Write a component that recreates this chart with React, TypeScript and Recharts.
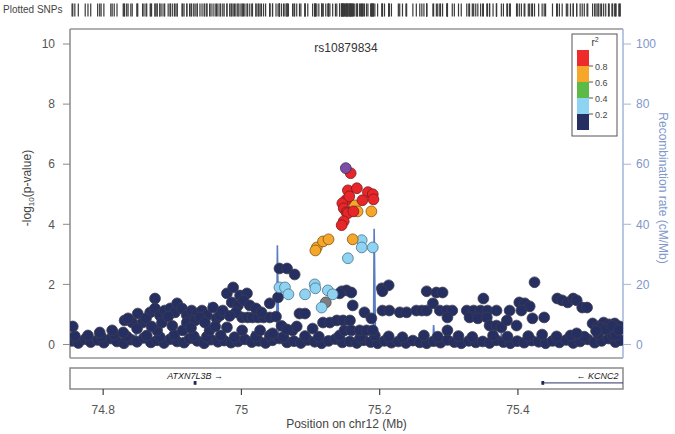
import React from "react";
import {
  ComposedChart,
  Scatter,
  XAxis,
  YAxis,
  ReferenceLine,
  ReferenceArea,
} from "recharts";

type Pt = [number, number];

const X_DOMAIN: [number, number] = [74.752, 75.552];
const pTicks = [0, 2, 4, 6, 8, 10];
const rateTicks = [0, 20, 40, 60, 80, 100];
const posTicks = [74.8, 75, 75.2, 75.4];
const ldColors = ["#ee2b2b", "#f5a62b", "#5cba47", "#8ed4f2", "#262f62"];
const ldBreaks = ["0.8", "0.6", "0.4", "0.2"];
const leadName = "rs10879834";

// [position (Mb), -log10 p]
const leadSnp: Pt[] = [[75.151, 5.87]];

const redSnps: Pt[] = [
  [75.158, 5.7], [75.154, 5.13], [75.167, 5.2], [75.183, 5.07], [75.19, 5.0],
  [75.191, 4.83], [75.175, 4.8], [75.151, 4.8], [75.146, 4.7], [75.148, 4.53],
  [75.152, 4.4], [75.154, 4.37], [75.162, 4.43], [75.148, 4.1], [75.145, 3.97],
  [75.156, 4.93],
];

const orangeSnps: Pt[] = [
  [75.164, 4.63], [75.168, 4.43], [75.188, 4.43], [75.109, 3.23], [75.107, 3.13],
  [75.118, 3.43], [75.126, 3.5], [75.161, 3.5],
];

const lightBlueSnps: Pt[] = [
  [75.174, 3.47], [75.174, 3.23], [75.19, 3.23], [75.154, 2.87], [75.055, 1.9],
  [75.063, 1.9], [75.068, 1.67], [75.092, 1.67], [75.106, 2.0], [75.107, 1.87],
  [75.125, 1.8], [75.132, 1.67], [75.116, 1.23],
];

const noLdSnps: Pt[] = [[75.122, 1.4]];

const navySnps: Pt[] = [
  // baseline, lower row
  [74.755, 0.12], [74.764, 0.05], [74.774, 0.18], [74.782, 0.08], [74.792, 0.15],
  [74.801, 0.06], [74.811, 0.2], [74.82, 0.1], [74.83, 0.04], [74.84, 0.16],
  [74.849, 0.09], [74.859, 0.22], [74.869, 0.07], [74.878, 0.14], [74.888, 0.05],
  [74.897, 0.18], [74.907, 0.1], [74.917, 0.06], [74.925, 0.2], [74.936, 0.12],
  [74.946, 0.04], [74.956, 0.16], [74.966, 0.09], [74.975, 0.13], [74.985, 0.06],
  [74.995, 0.1], [75.005, 0.17], [75.015, 0.08], [75.025, 0.12], [75.035, 0.05],
  [75.045, 0.14], [75.055, 0.2], [75.066, 0.07], [75.076, 0.11], [75.086, 0.05],
  [75.096, 0.15], [75.106, 0.09], [75.116, 0.04], [75.126, 0.12], [75.136, 0.18],
  [75.146, 0.07], [75.157, 0.1], [75.167, 0.05], [75.177, 0.14], [75.187, 0.08],
  [75.197, 0.04], [75.207, 0.12], [75.217, 0.06], [75.227, 0.1], [75.238, 0.05],
  [75.248, 0.13], [75.258, 0.07], [75.268, 0.04], [75.278, 0.11], [75.288, 0.06],
  [75.298, 0.15], [75.308, 0.08], [75.318, 0.04], [75.329, 0.12], [75.339, 0.07],
  [75.349, 0.1], [75.359, 0.05], [75.369, 0.14], [75.379, 0.08], [75.389, 0.04],
  [75.399, 0.11], [75.409, 0.06], [75.42, 0.13], [75.43, 0.09], [75.44, 0.04],
  [75.45, 0.12], [75.46, 0.07], [75.47, 0.15], [75.48, 0.05], [75.49, 0.1],
  [75.501, 0.17], [75.511, 0.06], [75.521, 0.12], [75.531, 0.2], [75.541, 0.08],
  [75.548, 0.14],
  // baseline, upper row
  [74.759, 0.28], [74.778, 0.3], [74.797, 0.26], [74.816, 0.33], [74.834, 0.27],
  [74.863, 0.3], [74.882, 0.25], [74.903, 0.32], [74.931, 0.28], [74.95, 0.26],
  [74.97, 0.3], [74.99, 0.24], [75.021, 0.27], [75.041, 0.3], [75.061, 0.25],
  [75.092, 0.28], [75.112, 0.26], [75.142, 0.3], [75.172, 0.25], [75.193, 0.3],
  [75.213, 0.27], [75.233, 0.24], [75.264, 0.3], [75.284, 0.26], [75.314, 0.28],
  [75.334, 0.25], [75.364, 0.3], [75.385, 0.26], [75.415, 0.28], [75.435, 0.33],
  [75.456, 0.27], [75.476, 0.3], [75.496, 0.26], [75.516, 0.35], [75.537, 0.29],
  // left and middle
  [74.756, 0.6], [74.829, 0.4], [74.831, 0.8], [74.842, 0.73], [74.85, 1.03],
  [74.857, 0.73], [74.849, 0.53], [74.868, 1.07], [74.875, 1.53], [74.875, 1.2],
  [74.882, 0.97], [74.878, 0.47], [74.889, 1.13], [74.897, 1.2], [74.904, 1.07],
  [74.907, 1.37], [74.914, 1.2], [74.915, 0.47], [74.921, 0.97], [74.921, 0.73],
  [74.928, 1.13], [74.936, 1.03], [74.943, 1.13], [74.95, 0.97], [74.954, 0.47],
  [74.959, 1.23], [74.964, 0.87], [74.969, 0.97], [74.979, 1.7], [74.988, 1.9],
  [74.998, 1.63], [75.008, 1.7], [74.986, 1.4], [74.995, 1.3], [75.003, 1.47],
  [75.012, 1.3], [74.979, 0.57], [75.001, 0.9], [75.009, 0.9], [75.016, 0.9],
  [75.001, 0.47], [75.024, 0.9], [75.032, 0.9], [75.041, 0.9], [75.05, 0.93],
  [75.041, 1.37], [75.027, 0.47], [75.045, 0.37], [75.074, 0.47], [75.084, 1.03],
  [75.092, 1.03], [75.08, 0.6], [75.103, 0.53], [75.118, 0.73], [75.128, 0.73],
  [75.138, 0.8], [75.147, 0.8], [75.157, 0.8], [75.149, 0.47], [75.159, 0.47],
  [75.171, 0.47], [75.181, 0.47], [75.19, 0.47],
  [74.836, 0.87], [74.862, 0.87], [74.885, 0.73], [74.894, 0.93], [74.933, 0.8],
  [74.94, 0.9], [74.947, 0.73], [74.973, 1.13], [74.992, 1.07], [75.021, 1.2],
  [75.029, 1.07], [74.813, 0.47], [74.795, 0.4], [74.87, 0.6], [74.9, 0.62],
  [74.927, 0.55], [74.962, 0.6], [74.983, 0.95], [75.058, 0.62], [75.066, 0.5],
  // around the peak
  [75.055, 2.53], [75.066, 2.53], [75.077, 2.33], [75.053, 1.57], [75.145, 1.77],
  [75.152, 1.8], [75.159, 1.73], [75.142, 1.7], [75.161, 1.3], [75.203, 1.87],
  [75.213, 1.97], [75.204, 1.77], [75.178, 1.07], [75.188, 0.87],
  // right side
  [75.204, 1.13], [75.214, 1.13], [75.229, 1.07], [75.239, 1.07], [75.253, 1.13],
  [75.261, 1.13], [75.268, 1.13], [75.268, 1.77], [75.282, 1.73], [75.291, 1.73],
  [75.277, 1.37], [75.287, 1.13], [75.297, 1.13], [75.305, 1.13], [75.298, 0.9],
  [75.298, 0.47], [75.326, 1.13], [75.336, 1.13], [75.346, 1.13], [75.356, 1.13],
  [75.369, 1.13], [75.33, 0.9], [75.342, 0.87], [75.355, 0.9], [75.35, 1.53],
  [75.359, 0.63], [75.369, 0.63], [75.376, 0.57], [75.388, 1.13], [75.384, 0.8],
  [75.398, 0.63], [75.402, 1.4], [75.41, 1.37], [75.417, 1.27], [75.405, 1.13],
  [75.424, 2.07], [75.421, 0.87], [75.438, 0.9], [75.457, 1.53], [75.464, 1.47],
  [75.472, 1.4], [75.48, 1.53], [75.485, 1.47], [75.493, 1.23], [75.5, 1.23],
  [75.508, 0.7], [75.516, 0.6], [75.524, 0.73], [75.532, 0.67], [75.54, 0.7],
  [75.547, 0.6], [75.485, 0.37], [75.542, 0.3], [75.519, 0.55], [75.527, 0.5],
  [75.536, 0.62], [75.546, 0.48], [75.513, 0.45],
];

// [position (Mb), recombination rate (cM/Mb)]
const recombination: Pt[] = [
  [74.752, 0.5], [74.83, 0.6], [74.846, 1.2], [74.847, 5.0], [74.849, 0.8],
  [74.9, 0.7], [74.952, 1.0], [74.953, 14.0], [74.955, 1.5], [74.974, 1.2],
  [74.975, 6.0], [74.977, 1.0], [75.015, 0.8], [75.016, 4.5], [75.018, 0.6],
  [75.051, 0.8], [75.052, 33.0], [75.054, 0.9], [75.1, 0.8], [75.138, 1.0],
  [75.141, 2.8], [75.145, 1.2], [75.152, 2.2], [75.158, 0.9], [75.165, 2.6],
  [75.17, 1.0], [75.175, 2.0], [75.18, 0.8], [75.191, 1.0], [75.192, 38.5],
  [75.194, 0.5], [75.277, 0.5], [75.278, 6.5], [75.28, 0.5], [75.375, 0.5],
  [75.376, 4.0], [75.378, 0.5], [75.552, 0.5],
];

const geneNames = ["ATXN7L3B \u2192", "\u2190 KCNC2"];
const geneStart = [74.931, 75.434];
const geneEnd = [74.934, 75.6];
const geneLabelPos = [74.933, 75.515];

const FONT = "'Liberation Sans', Arial, sans-serif";

const toRows = (pts: Pt[]) => pts.map(([pos, logp]) => ({ pos, logp }));
const recombRows = recombination.map(([pos, rate]) => ({ pos, rate }));
const allSnps = [...navySnps, ...lightBlueSnps, ...orangeSnps, ...redSnps, ...noLdSnps, ...leadSnp];
const rugRows = allSnps.map(([pos]) => ({ pos, band: 0.5 }));
const geneLabelRows = geneNames.map((name, i) => ({ pos: geneLabelPos[i], track: 0.6, name }));

const dot = (fill: string, stroke: string) => (p: any) =>
  p.cx == null ? <g /> : <circle cx={p.cx} cy={p.cy} r={5.4} fill={fill} stroke={stroke} strokeWidth={0.8} />;

const rugMark = (p: any) =>
  p.cx == null ? <g /> : <rect x={p.cx - 0.6} y={p.cy - 6.5} width={1.2} height={13} fill="#3a3a3a" />;

const geneLabel = (p: any) =>
  p.cx == null ? (
    <g />
  ) : (
    <text x={p.cx} y={p.cy + 3} textAnchor="middle" fontSize={9} fontStyle="italic" fill="#222" fontFamily={FONT}>
      {p.payload.name}
    </text>
  );

// x-axis tick: short mark under the gene box plus the label
const PosTick = (p: any) => (
  <g>
    <line x1={p.x} x2={p.x} y1={p.y} y2={p.y + 6} stroke="#444" strokeWidth={1.2} />
    <text x={p.x} y={p.y + 25} textAnchor="middle" fontSize={12} fill="#555" fontFamily={FONT}>
      {String(p.payload.value)}
    </text>
  </g>
);

export default function App() {
  return (
    <div style={{ position: "absolute", left: 0, top: 0, width: 675, height: 434, background: "#fff", fontFamily: FONT }}>
      {/* plotted SNPs rug */}
      <div style={{ position: "absolute", left: 0, top: 0 }}>
        <ComposedChart width={675} height={20} margin={{ top: 3, right: 52, bottom: 3, left: 70 }}>
          <XAxis type="number" dataKey="pos" domain={X_DOMAIN} hide allowDataOverflow />
          <YAxis type="number" dataKey="band" domain={[0, 1]} hide />
          <Scatter data={rugRows} shape={rugMark} isAnimationActive={false} />
        </ComposedChart>
      </div>

      {/* association plot */}
      <div style={{ position: "absolute", left: 0, top: 0 }}>
        <ComposedChart width={675} height={370} margin={{ top: 29, right: 0, bottom: 12, left: 30 }}>
          <XAxis type="number" dataKey="pos" domain={X_DOMAIN} hide allowDataOverflow />
          <YAxis
            yAxisId="left"
            type="number"
            dataKey="logp"
            domain={[-0.45, 10.5]}
            ticks={pTicks}
            allowDataOverflow
            width={40}
            tickSize={7}
            tickMargin={8}
            axisLine={{ stroke: "#8a8a8a", strokeWidth: 1.5 }}
            tickLine={{ stroke: "#8a8a8a" }}
            tick={{ fill: "#555", fontSize: 12, fontFamily: FONT }}
          />
          <YAxis
            yAxisId="right"
            orientation="right"
            type="number"
            dataKey="rate"
            domain={[-4.5, 105]}
            ticks={rateTicks}
            allowDataOverflow
            width={52}
            tickSize={8}
            tickMargin={5}
            axisLine={{ stroke: "#a3b5da", strokeWidth: 1.5 }}
            tickLine={{ stroke: "#a3b5da" }}
            tick={{ fill: "#7f97c9", fontSize: 12, fontFamily: FONT }}
          />
          <ReferenceLine yAxisId="left" y={10.5} stroke="#b0b0b0" strokeWidth={2} />
          <ReferenceLine yAxisId="left" y={-0.45} stroke="#b0b0b0" strokeWidth={2} />
          <Scatter
            yAxisId="right"
            data={recombRows}
            line={{ stroke: "#5a7dc2", strokeWidth: 1.6 }}
            shape={() => <g />}
            isAnimationActive={false}
          />
          <Scatter yAxisId="left" data={toRows(navySnps)} shape={dot("#262f62", "#3c3c4c")} isAnimationActive={false} />
          <Scatter yAxisId="left" data={toRows(noLdSnps)} shape={dot("#7d7d7d", "#444")} isAnimationActive={false} />
          <Scatter yAxisId="left" data={toRows(lightBlueSnps)} shape={dot("#8ed4f2", "#4e6d88")} isAnimationActive={false} />
          <Scatter yAxisId="left" data={toRows(orangeSnps)} shape={dot("#f5a62b", "#7d5512")} isAnimationActive={false} />
          <Scatter yAxisId="left" data={toRows(redSnps)} shape={dot("#e8262a", "#7a1c1c")} isAnimationActive={false} />
          <Scatter yAxisId="left" data={toRows(leadSnp)} shape={dot("#7a4fa3", "#3e2a5a")} isAnimationActive={false} />
        </ComposedChart>
      </div>

      {/* gene track */}
      <div style={{ position: "absolute", left: 0, top: 360 }}>
        <ComposedChart width={675} height={74} margin={{ top: 8, right: 52, bottom: 0, left: 70 }}>
          <XAxis
            type="number"
            dataKey="pos"
            domain={X_DOMAIN}
            ticks={posTicks}
            allowDataOverflow
            height={45}
            tickSize={0}
            tickMargin={0}
            axisLine={false}
            tickLine={false}
            tick={<PosTick />}
            label={{ value: "Position on chr12 (Mb)", position: "insideBottom", offset: 6, fill: "#444", fontSize: 12, fontFamily: FONT }}
          />
          <YAxis type="number" dataKey="track" domain={[0, 1]} hide />
          <ReferenceArea x1={X_DOMAIN[0]} x2={X_DOMAIN[1]} y1={0} y2={1} fill="#fff" fillOpacity={1} stroke="#8a8a8a" strokeWidth={1.5} />
          {geneNames.map((name, i) => (
            <ReferenceLine
              key={"l" + i}
              segment={[{ x: geneStart[i], y: 0.29 }, { x: Math.min(geneEnd[i], X_DOMAIN[1]), y: 0.29 }]}
              stroke="#2b3366"
              strokeWidth={1}
            />
          ))}
          {geneNames.map((name, i) => (
            <ReferenceArea
              key={"e" + i}
              x1={geneStart[i]}
              x2={geneStart[i] + 0.004}
              y1={0.2}
              y2={0.38}
              fill="#1f2750"
              fillOpacity={1}
              stroke="none"
            />
          ))}
          <Scatter data={geneLabelRows} shape={geneLabel} isAnimationActive={false} />
        </ComposedChart>
      </div>

      {/* text and legend */}
      <svg width={675} height={434} style={{ position: "absolute", left: 0, top: 0, pointerEvents: "none" }}>
        <text x={3} y={13} fontSize={10} fill="#444" fontFamily={FONT}>Plotted SNPs</text>
        <text x={346} y={52} fontSize={12} fill="#333" textAnchor="middle" fontFamily={FONT}>{leadName}</text>
        <text transform="translate(31,188) rotate(-90)" fontSize={12} fill="#444" textAnchor="middle" fontFamily={FONT}>
          -log<tspan fontSize={8} dy={3}>10</tspan><tspan dy={-3}>(p-value)</tspan>
        </text>
        <text transform="translate(659,188) rotate(90)" fontSize={12} fill="#7f97c9" textAnchor="middle" fontFamily={FONT}>
          Recombination rate (cM/Mb)
        </text>
        <rect x={572} y={34} width={45} height={102} fill="#fff" stroke="#555" strokeWidth={1} />
        <text x={595} y={46} fontSize={10} fill="#333" textAnchor="middle" fontFamily={FONT}>
          r<tspan fontSize={7} dy={-4}>2</tspan>
        </text>
        {ldColors.map((c, i) => (
          <rect key={c} x={577} y={50 + i * 16} width={12} height={16} fill={c} />
        ))}
        {ldBreaks.map((b, i) => (
          <g key={b}>
            <line x1={589} x2={593} y1={66 + i * 16} y2={66 + i * 16} stroke="#555" />
            <text x={595} y={69.5 + i * 16} fontSize={9} fill="#444" fontFamily={FONT}>{b}</text>
          </g>
        ))}
      </svg>
    </div>
  );
}
